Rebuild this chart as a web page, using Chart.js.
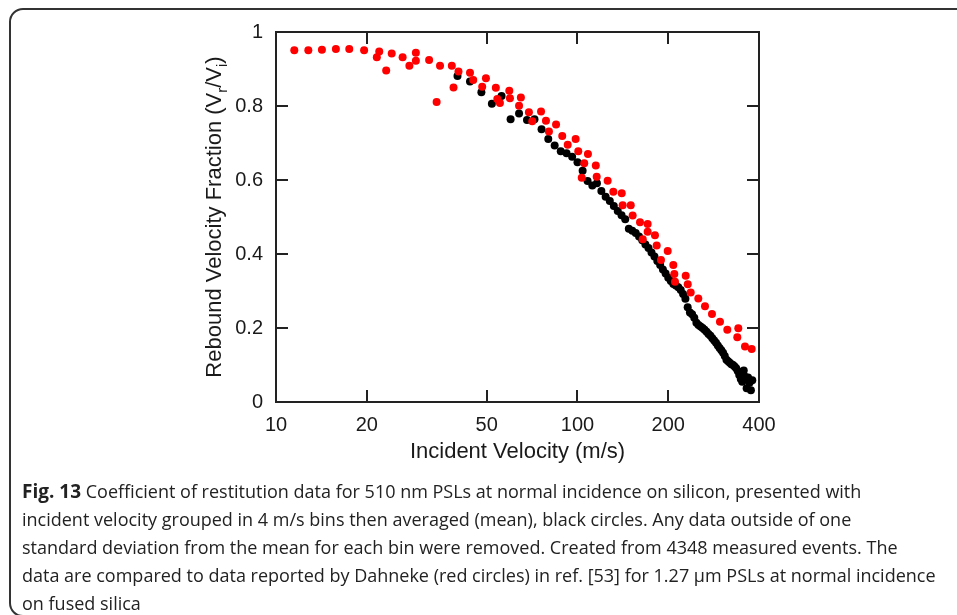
<!DOCTYPE html>
<html>
<head>
<meta charset="utf-8">
<script src="https://cdn.jsdelivr.net/npm/chart.js@4.4.0/dist/chart.umd.min.js"></script>
<style>
html, body { margin: 0; padding: 0; background: #fff; }
body { width: 957px; height: 615px; position: relative; overflow: hidden; }
#wrap { position: absolute; left: 0; top: 0; width: 957px; height: 480px; }
#frame { position: absolute; left: 9px; top: 8px; width: 1000px; height: 605px; border: 2px solid #333; border-radius: 14px; }
#caption { position: absolute; left: 22px; top: 477px; font-family: "Open Sans", sans-serif; font-size: 18px; line-height: 28px; color: #222; white-space: nowrap; }
#caption b { font-size: 19px; }
</style>
</head>
<body>
<div id="frame"></div>
<div id="wrap"><canvas id="cor" width="957" height="480"></canvas></div>
<div id="caption"><b>Fig. 13</b> Coefficient of restitution data for 510 nm PSLs at normal incidence on silicon, presented with<br>incident velocity grouped in 4 m/s bins then averaged (mean), black circles. Any data outside of one<br>standard deviation from the mean for each bin were removed. Created from 4348 measured events. The<br>data are compared to data reported by Dahneke (red circles) in ref. [53] for 1.27 μm PSLs at normal incidence<br>on fused silica</div>

<script>
// measured data, 4 m/s bins (black circles)
const blackX = [40, 44, 48, 52, 56, 60, 64, 68, 72, 76, 80, 84, 88, 92, 96, 100, 104, 108, 112, 116,
    120, 124, 128, 132, 136, 140, 144, 148, 152, 156, 160, 164, 168, 172, 176, 180, 184, 188, 192, 196,
    200, 204, 208, 212, 216, 220, 224, 228, 232, 236, 240, 244, 248, 252, 256, 260, 264, 268, 272, 276,
    280, 284, 288, 292, 296, 300, 304, 308, 312, 316, 320, 324, 328, 332, 336, 340, 344, 348, 352, 356,
    360, 364, 368, 372, 376, 380];
const blackY = [0.881, 0.866, 0.837, 0.806, 0.827, 0.764, 0.780, 0.762, 0.764, 0.737, 0.711, 0.693, 0.678, 0.672, 0.663, 0.648, 0.625, 0.597, 0.585, 0.591,
    0.570, 0.555, 0.543, 0.530, 0.516, 0.505, 0.494, 0.468, 0.463, 0.457, 0.447, 0.437, 0.426, 0.416, 0.404, 0.393, 0.381, 0.370, 0.358, 0.347,
    0.336, 0.327, 0.319, 0.315, 0.310, 0.303, 0.292, 0.279, 0.256, 0.242, 0.237, 0.228, 0.214, 0.208, 0.204, 0.200, 0.195, 0.190, 0.184, 0.179,
    0.172, 0.166, 0.160, 0.153, 0.146, 0.140, 0.133, 0.124, 0.114, 0.110, 0.106, 0.102, 0.100, 0.096, 0.091, 0.084, 0.073, 0.062, 0.055, 0.085,
    0.068, 0.037, 0.066, 0.052, 0.032, 0.059];

// Dahneke data (red circles)
const redX = [11.5, 12.8, 14.2, 15.8, 17.5, 19.6, 21.6, 22.0, 23.2, 24.2, 26.3, 27.7, 29.1, 29.1, 32.2, 34.1, 35.0, 38.3, 38.8, 40.3,
    44.0, 45.1, 48.3, 49.7, 53.6, 54.2, 55.3, 59.4, 59.7, 64.9, 64.0, 69.0, 70.8, 75.7, 78.6, 80.4, 84.9, 89.0, 92.8, 98.6,
    100.6, 103.3, 105.3, 108.3, 115.0, 115.8, 125.9, 131.5, 140.2, 141.2, 150.2, 152.4, 161.2, 164.6, 170.9, 170.9, 180.7, 183.1, 189.2, 199.2,
    207.9, 209.5, 210.6, 228.5, 232.1, 237.4, 251.6, 264.8, 279.3, 296.9, 314.0, 338.9, 341.5, 359.4, 378.3];
const redY = [0.951, 0.951, 0.952, 0.954, 0.954, 0.951, 0.932, 0.947, 0.896, 0.942, 0.932, 0.909, 0.944, 0.922, 0.924, 0.811, 0.909, 0.909, 0.850, 0.893,
    0.890, 0.870, 0.852, 0.875, 0.849, 0.819, 0.808, 0.841, 0.821, 0.823, 0.801, 0.783, 0.759, 0.785, 0.760, 0.731, 0.750, 0.719, 0.695, 0.711,
    0.678, 0.606, 0.645, 0.670, 0.639, 0.609, 0.598, 0.568, 0.564, 0.532, 0.532, 0.504, 0.486, 0.440, 0.481, 0.460, 0.451, 0.423, 0.384, 0.408,
    0.370, 0.346, 0.325, 0.341, 0.318, 0.296, 0.280, 0.259, 0.238, 0.217, 0.195, 0.175, 0.199, 0.150, 0.143];

const xTicks = [10, 20, 50, 100, 200, 400];
const yTicks = [0, 0.2, 0.4, 0.6, 0.8, 1];
const yTickLabels = ['0', '0.2', '0.4', '0.6', '0.8', '1'];

const toPoints = (xs, ys) => xs.map((x, i) => ({x: x, y: ys[i]}));
const FONT = '"Liberation Sans", Arial, sans-serif';

// box, inward ticks and axis titles
const frameAxes = {
    id: 'frameAxes',
    afterDraw(chart) {
        const ctx = chart.ctx;
        const ca = chart.chartArea;
        const sx = chart.scales.x, sy = chart.scales.y;
        ctx.save();
        ctx.strokeStyle = '#222';
        ctx.lineWidth = 2;
        ctx.strokeRect(ca.left, ca.top, ca.right - ca.left, ca.bottom - ca.top);
        ctx.beginPath();
        xTicks.forEach(v => {
            const px = Math.round(sx.getPixelForValue(v));
            ctx.moveTo(px, ca.bottom); ctx.lineTo(px, ca.bottom - 12);
            ctx.moveTo(px, ca.top); ctx.lineTo(px, ca.top + 12);
        });
        yTicks.forEach(v => {
            const py = Math.round(sy.getPixelForValue(v));
            ctx.moveTo(ca.left, py); ctx.lineTo(ca.left + 12, py);
            ctx.moveTo(ca.right, py); ctx.lineTo(ca.right - 12, py);
        });
        ctx.stroke();

        ctx.fillStyle = '#1a1a1a';
        ctx.font = '22px ' + FONT;
        ctx.textAlign = 'center';
        ctx.textBaseline = 'middle';
        ctx.fillText('Incident Velocity (m/s)', (ca.left + ca.right) / 2, 452);

        // y title with subscripts
        const parts = [
            ['Rebound Velocity Fraction (V', 22, 0],
            ['r', 15, 6],
            ['/V', 22, 0],
            ['i', 15, 6],
            [')', 22, 0]
        ];
        let total = 0;
        parts.forEach(p => { ctx.font = p[1] + 'px ' + FONT; total += ctx.measureText(p[0]).width; });
        ctx.translate(205, 217);
        ctx.rotate(-Math.PI / 2);
        ctx.textAlign = 'left';
        ctx.textBaseline = 'alphabetic';
        let cx = -total / 2;
        parts.forEach(p => {
            ctx.font = p[1] + 'px ' + FONT;
            ctx.fillText(p[0], cx, 16 + p[2]);
            cx += ctx.measureText(p[0]).width;
        });
        ctx.restore();
    }
};

new Chart(document.getElementById('cor').getContext('2d'), {
    type: 'scatter',
    data: {
        datasets: [{
            label: 'Dahneke',
            data: toPoints(redX, redY),
            backgroundColor: '#ff0000',
            borderWidth: 0,
            pointRadius: 4,
            order: 0
        }, {
            label: 'Measured',
            data: toPoints(blackX, blackY),
            backgroundColor: '#000000',
            borderWidth: 0,
            pointRadius: 4,
            order: 1
        }]
    },
    options: {
        responsive: false,
        animation: false,
        devicePixelRatio: 1,
        layout: { padding: { left: 0, right: 198, top: 32, bottom: 0 } },
        plugins: { legend: { display: false }, tooltip: { enabled: false } },
        scales: {
            x: {
                type: 'logarithmic',
                min: 10,
                max: 400,
                grid: { display: false, drawTicks: false },
                border: { display: false },
                afterBuildTicks: s => { s.ticks = xTicks.map(v => ({value: v})); },
                afterFit: s => { s.height = 78; },
                ticks: {
                    padding: 11,
                    color: '#1a1a1a',
                    font: { family: FONT, size: 20 },
                    maxRotation: 0,
                    autoSkip: false,
                    callback: v => String(v)
                }
            },
            y: {
                min: 0,
                max: 1,
                grid: { display: false, drawTicks: false },
                border: { display: false },
                afterBuildTicks: s => { s.ticks = yTicks.map(v => ({value: v})); },
                afterFit: s => { s.width = 276; },
                ticks: {
                    padding: 13,
                    color: '#1a1a1a',
                    font: { family: FONT, size: 20 },
                    callback: v => yTickLabels[yTicks.indexOf(v)]
                }
            }
        }
    },
    plugins: [frameAxes]
});
</script>
</body>
</html>
